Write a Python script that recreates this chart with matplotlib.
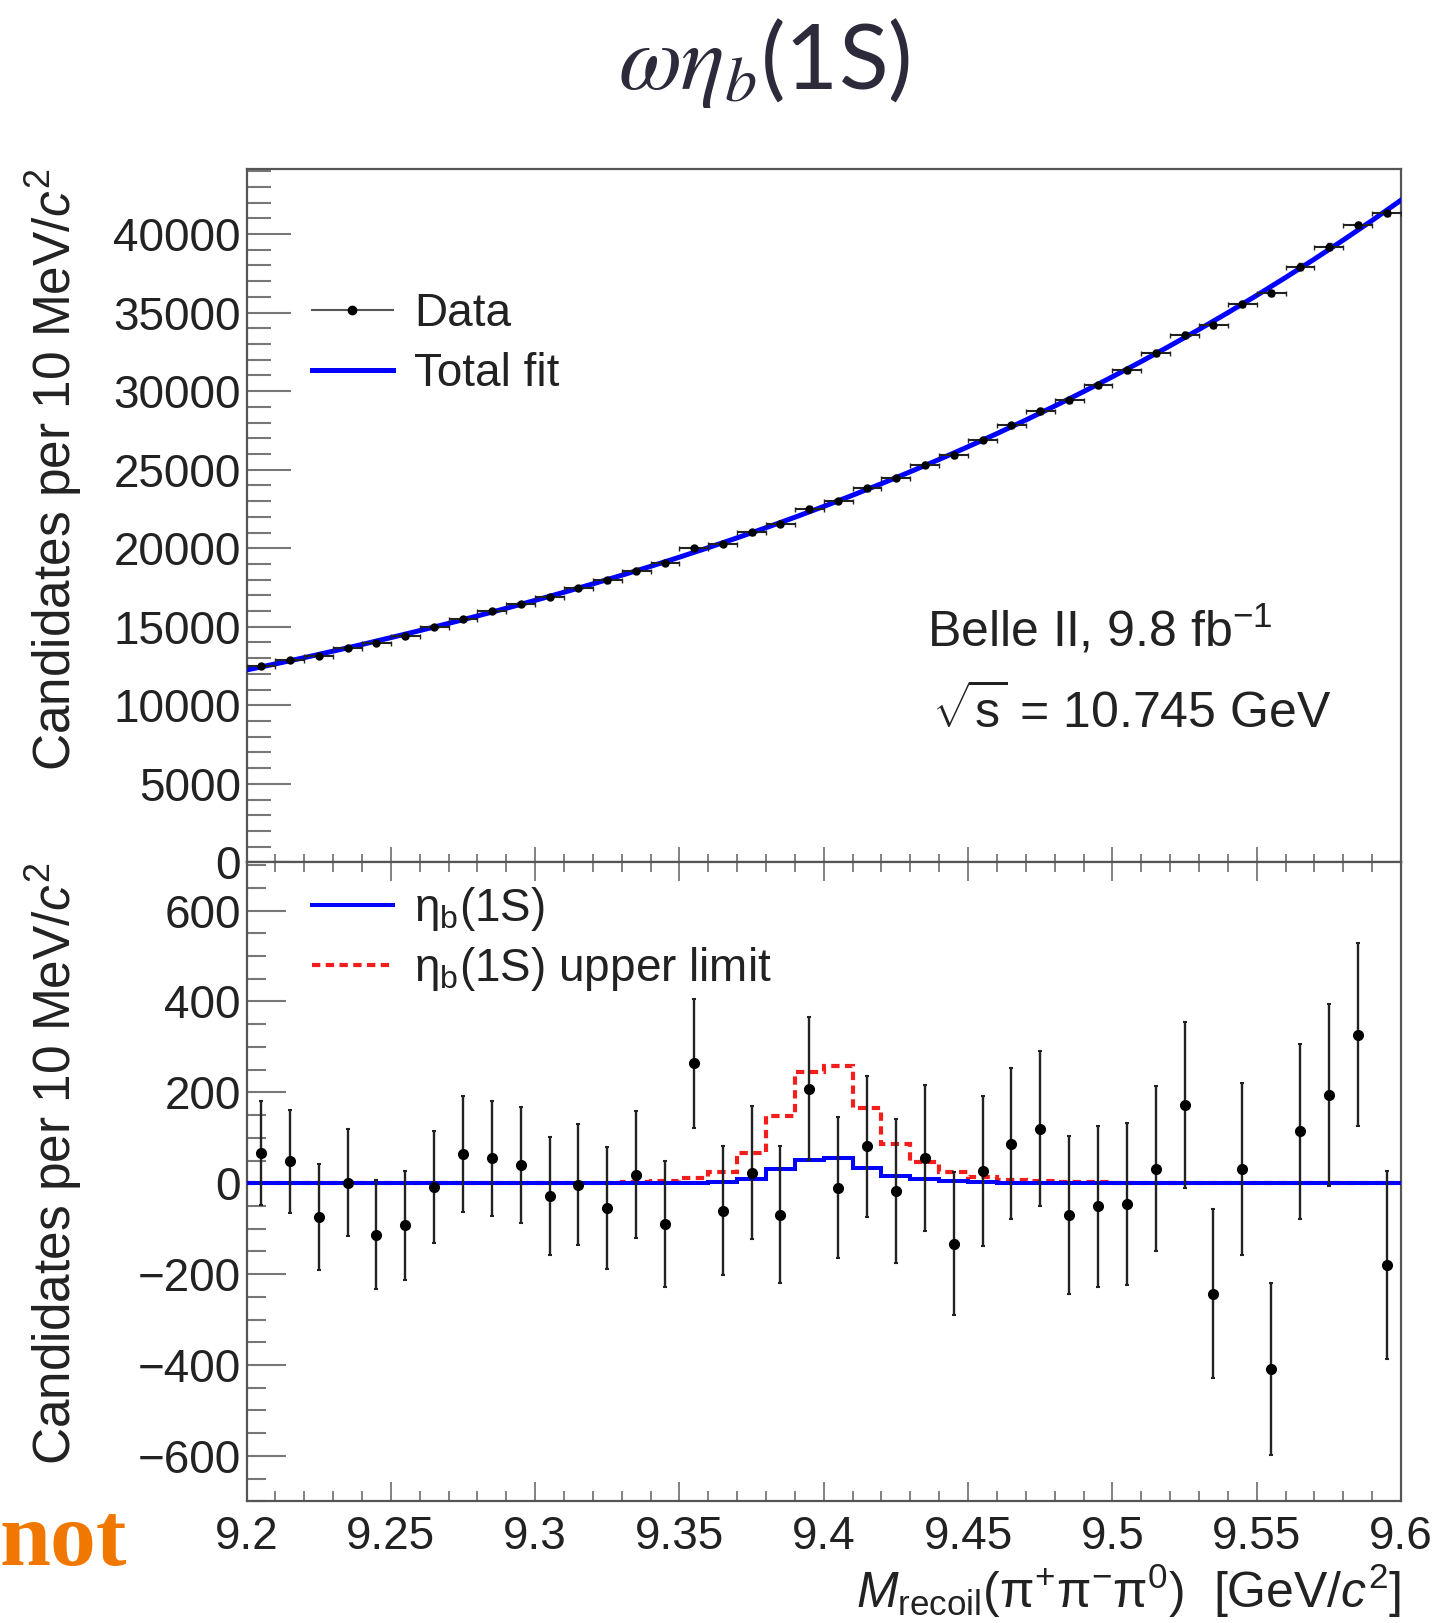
import numpy as np
import matplotlib
matplotlib.use("Agg")
import matplotlib.pyplot as plt
from matplotlib.lines import Line2D
from matplotlib.ticker import MultipleLocator

plt.rcParams['font.family'] = ['Liberation Sans', 'DejaVu Sans']
plt.rcParams['mathtext.fontset'] = 'custom'
plt.rcParams['mathtext.rm'] = 'Liberation Sans'
plt.rcParams['mathtext.it'] = 'Liberation Sans:italic'
plt.rcParams['mathtext.bf'] = 'Liberation Sans:bold'
plt.rcParams['mathtext.sf'] = 'Liberation Sans'
plt.rcParams['axes.unicode_minus'] = True

# recoil mass binning, 10 MeV/c^2 per bin
mass_edges = np.round(np.linspace(9.20, 9.60, 41), 2)
mass_centers = mass_edges[:-1] + 0.005

# total fit evaluated on the bin edges
fit_total = [12250, 12637, 13036, 13448, 13873, 14311, 14756, 15215, 15689, 16178,
             16682, 17198, 17730, 18279, 18846, 19431, 20037, 20662, 21307, 21973,
             22661, 23374, 24110, 24869, 25653, 26462, 27297, 28159, 29048, 29966,
             30913, 31885, 32888, 33923, 34991, 36093, 37230, 38403, 39614, 40864,
             42154]

# candidates per bin
data_counts = [12511, 12885, 13168, 13662, 13979, 14441, 14977, 15516, 15989, 16470,
               16912, 17461, 17951, 18582, 19049, 19998, 20289, 21008, 21571, 22525,
               23008, 23823, 24473, 25316, 25925, 26907, 27815, 28724, 29437, 30389,
               31353, 32419, 33578, 34214, 35574, 36253, 37931, 39203, 40566, 41329]

# background-subtracted candidates and their uncertainties
resid_counts = [67, 48, -74, 1, -113, -93, -9, 64, 55, 40,
                -28, -3, -54, 19, -90, 264, -61, 23, -69, 208,
                -10, 81, -17, 55, -133, 27, 87, 120, -70, -51,
                -46, 32, 172, -243, 32, -409, 114, 194, 327, -180]
data_err = [115, 113, 116, 118, 120, 120, 123, 127, 127, 127,
            130, 133, 134, 139, 139, 142, 142, 146, 150, 157,
            155, 156, 158, 161, 158, 165, 166, 170, 174, 177,
            179, 182, 183, 186, 189, 189, 193, 200, 201, 206]

# eta_b(1S) fitted signal and upper-limit signal per bin
sig_fit = [0, 0, 0, 0, 0, 0, 0, 0, 0, 0,
           0, 0, 0, 0, 0, 1, 3, 10, 31, 51,
           55, 33, 17, 9, 4, 2, 1, 0, 0, 0,
           0, 0, 0, 0, 0, 0, 0, 0, 0, 0]
sig_ul = [0, 0, 0, 0, 0, 0, 0, 0, 0, 0,
          0, 0, 0, 2, 6, 12, 24, 66, 147, 245,
          259, 166, 87, 47, 25, 14, 8, 5, 3, 2,
          1, 0, 0, 0, 0, 0, 0, 0, 0, 0]

FS = 33
frame_col = '#555555'
tick_col = '#777777'
text_col = '#222222'

fig = plt.figure(figsize=(14.34, 16.23), dpi=100)
ax1 = fig.add_axes([0.1719, 0.4686, 0.8051, 0.4274])
ax2 = fig.add_axes([0.1719, 0.0750, 0.8051, 0.3936])

for ax in (ax1, ax2):
    for sp in ax.spines.values():
        sp.set_color(frame_col)
        sp.set_linewidth(1.6)
    ax.set_xlim(9.2, 9.6)
    ax.xaxis.set_major_locator(MultipleLocator(0.05))
    ax.xaxis.set_minor_locator(MultipleLocator(0.01))

# ---- upper pad: data and total fit ----
ax1.plot(mass_edges, fit_total, color='#0000ff', lw=3.6, zorder=3)
ax1.errorbar(mass_centers, data_counts, yerr=data_err, xerr=0.005, fmt='o',
             ms=5, color='black', ecolor='#222222', elinewidth=1.5, capsize=1.8,
             zorder=4)
ax1.set_ylim(0, 44150)
ax1.yaxis.set_major_locator(MultipleLocator(5000))
ax1.yaxis.set_minor_locator(MultipleLocator(1000))
ax1.tick_params(axis='y', which='major', direction='in', length=32, width=1.5,
                color=tick_col, labelsize=FS, pad=4, labelcolor=text_col)
ax1.tick_params(axis='y', which='minor', direction='in', length=17, width=1.5,
                color=tick_col)
ax1.tick_params(axis='x', which='major', direction='in', length=11, width=1.3,
                color=tick_col, labelbottom=False)
ax1.tick_params(axis='x', which='minor', direction='in', length=5.5, width=1.3,
                color=tick_col)
ax1.set_ylabel(r'Candidates per 10 MeV/$c^{2}$', fontsize=37, loc='top',
               color=text_col)
ax1.yaxis.set_label_coords(-0.141, 1.0)

leg1 = ax1.legend(handles=[
    Line2D([], [], color='#555555', lw=1.5, marker='o', ms=6, mfc='black', mec='black'),
    Line2D([], [], color='#0000ff', lw=3.6)],
    labels=['Data', 'Total fit'], loc='upper left', bbox_to_anchor=(0.057, 0.822),
    frameon=False, fontsize=FS, handlelength=1.75, handletextpad=0.47,
    labelspacing=0.35, borderpad=0, borderaxespad=0)
for t in leg1.get_texts():
    t.set_color(text_col)

ax1.text(0.5896, 0.3107, r'Belle II, 9.8 fb$^{\mathregular{-1}}$', transform=ax1.transAxes,
         fontsize=36, va='baseline', ha='left', color=text_col)
ax1.text(0.5939, 0.194, r'$\sqrt{\mathrm{s}}$ = 10.745 GeV', transform=ax1.transAxes,
         fontsize=36, va='baseline', ha='left', color=text_col)

# ---- lower pad: background-subtracted data and signal shapes ----
ax2.stairs(sig_ul, mass_edges, baseline=None, color='#f21d1d', lw=3.0,
           linestyle=(0, (2.0, 1.3)), zorder=2)
ax2.stairs(sig_fit, mass_edges, baseline=None, color='#0000ff', lw=2.9, zorder=3)
ax2.errorbar(mass_centers, resid_counts, yerr=data_err, fmt='o', ms=7,
             color='black', ecolor='#222222', elinewidth=1.7, capsize=1.6,
             capthick=1.5, zorder=4)
ax2.set_ylim(-700, 706)
ax2.yaxis.set_major_locator(MultipleLocator(200))
ax2.yaxis.set_minor_locator(MultipleLocator(50))
ax2.tick_params(axis='y', which='major', direction='in', length=28, width=1.5,
                color=tick_col, labelsize=FS, pad=4, labelcolor=text_col)
ax2.tick_params(axis='y', which='minor', direction='in', length=14, width=1.5,
                color=tick_col)
ax2.tick_params(axis='x', which='major', direction='in', length=14, width=1.3,
                color=tick_col, labelsize=FS, pad=10, labelcolor=text_col,
                top=True)
ax2.tick_params(axis='x', which='minor', direction='in', length=7, width=1.3,
                color=tick_col, top=True)
ax2.set_xticks([9.2, 9.25, 9.3, 9.35, 9.4, 9.45, 9.5, 9.55, 9.6])
ax2.set_xticklabels(['9.2', '9.25', '9.3', '9.35', '9.4', '9.45', '9.5', '9.55', '9.6'])
ax2.set_ylabel(r'Candidates per 10 MeV/$c^{2}$', fontsize=37, loc='top',
               color=text_col)
ax2.yaxis.set_label_coords(-0.141, 1.0)
ax2.set_xlabel(r'$M_{\mathregular{recoil}}(\mathrm{\pi}^{+}\mathrm{\pi}^{-}\mathrm{\pi}^{0})$'
               r'  [GeV/$c^{2}$]', fontsize=36, loc='right', color=text_col)
ax2.xaxis.set_label_coords(1.0, -0.095)

leg2 = ax2.legend(handles=[
    Line2D([], [], color='#0000ff', lw=2.9),
    Line2D([], [], color='#f21d1d', lw=3.0, linestyle=(0, (2.0, 1.3)))],
    labels=[r'$\mathregular{\eta_{b}}$(1S)', r'$\mathregular{\eta_{b}}$(1S) upper limit'],
    loc='upper left', bbox_to_anchor=(0.057, 0.965), frameon=False, fontsize=FS,
    handlelength=1.75, handletextpad=0.47, labelspacing=0.27, borderpad=0,
    borderaxespad=0)
for t in leg2.get_texts():
    t.set_color(text_col)

# channel title above the pads
fig.text(0.533, 0.961, r'$\omega\eta_b$(1S)', fontsize=66, ha='center', va='center',
         family='Lato', math_fontfamily='stix', color='#2d2a3c')

fig.text(0.0, 0.0357, 'not', fontsize=66, fontweight='bold', family='Liberation Serif',
         color='#f07800', ha='left', va='baseline')

fig.savefig('out.png', dpi=100)
